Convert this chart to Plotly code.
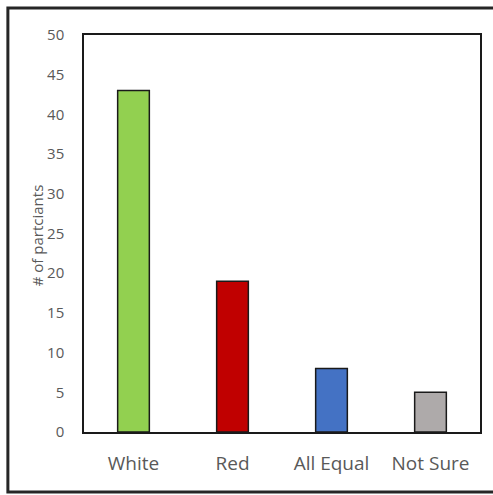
import plotly.graph_objects as go

categories = ["White", "Red", "All Equal", "Not Sure"]
values = [43, 19, 8, 5]
colors = ["#92D050", "#C00000", "#4472C4", "#AEAAAA"]
y_ticks = [0, 5, 10, 15, 20, 25, 30, 35, 40, 45, 50]
y_title = "# of partciants"

W, H = 493, 495
L, R, T, B = 84, 11, 35, 63
pw, ph = W - L - R, H - T - B

def px_x(x):
    return (x - L) / pw

def px_y(y):
    return (H - B - y) / ph

fig = go.Figure(go.Bar(
    x=categories, y=values,
    marker=dict(color=colors, line=dict(color="#1a1a1a", width=1.5)),
    width=0.32,
))

fig.update_layout(
    width=W, height=H,
    margin=dict(l=L, r=R, t=T, b=B, pad=0),
    paper_bgcolor="white", plot_bgcolor="white",
    showlegend=False,
    font=dict(family="Open Sans, DejaVu Sans, sans-serif", color="#595959"),
    xaxis=dict(
        showline=True, linecolor="#1a1a1a", linewidth=1.5, mirror=True,
        showgrid=False, ticks="", tickfont=dict(size=19, color="#595959"),
        ticklabelstandoff=13,
    ),
    yaxis=dict(
        range=[0, 50], tickvals=y_ticks,
        showline=True, linecolor="#1a1a1a", linewidth=1.5, mirror=True,
        showgrid=False, ticks="", tickfont=dict(size=15, color="#595959"),
        ticklabelstandoff=15, zeroline=False,
    ),
    annotations=[dict(
        text=y_title, textangle=-90, showarrow=False,
        xref="paper", yref="paper", x=px_x(37), y=px_y(235),
        xanchor="center", yanchor="middle",
        font=dict(size=15, color="#595959"),
    )],
    shapes=[dict(
        type="rect", xref="paper", yref="paper",
        x0=px_x(7.5), x1=px_x(500), y0=px_y(492), y1=px_y(8),
        line=dict(color="#262626", width=3), fillcolor="rgba(0,0,0,0)",
        layer="below",
    )],
)

fig.write_html("out.html")
